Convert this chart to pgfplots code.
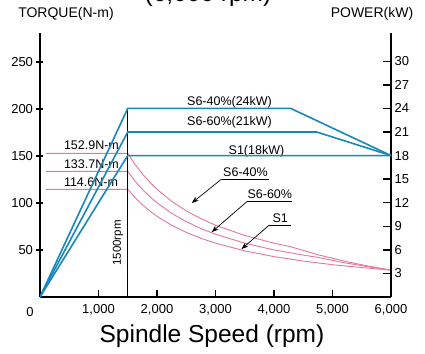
\documentclass[border=0pt]{standalone}
\usepackage{pgfplots}
\pgfplotsset{compat=1.18}
\usepackage{fontspec}
\setmainfont{Liberation Sans}
\usetikzlibrary{arrows.meta}
\definecolor{pblue}{RGB}{25,135,185}
\definecolor{ppink}{RGB}{228,120,150}
\begin{document}
\begin{tikzpicture}[x=1pt,y=1pt]
\begin{axis}[
  at={(0,0)}, anchor=south west, scale only axis,
  width=351pt, height=264pt,
  xmin=0, xmax=6000, ymin=0, ymax=281,
  axis x line*=bottom, axis y line*=left,
  axis line style={line width=1.3pt,-},
  xtick={1000,2000,3000,4000,5000,6000},
  xticklabels={{1,000},{2,000},{3,000},{4,000},{5,000},{6,000}},
  ytick={50,100,150,200,250},
  xtick align=inside, ytick align=center,
  major tick length=7pt,
  tick style={line width=1.5pt,black},
  ticklabel style={font=\fontsize{13}{13}\selectfont},
  /pgf/number format/assume math mode=true,
  xticklabel style={yshift=-4pt},
  clip=false,
]
\addplot[ppink, line width=0.9pt] coordinates {(100,152.9)(1500,152.9)(1625,141.1)(1750,131.0)(1875,122.3)(2000,114.6)(2250,101.9)(2500,91.7)(2750,83.4)(3000,76.4)(3500,65.5)(4000,57.3)(4286,53.5)(4750,45.0)(5250,37.5)(5600,33.1)(6000,28.6)};
\addplot[ppink, line width=0.9pt] coordinates {(100,133.7)(1500,133.7)(1625,123.4)(1750,114.6)(1875,107.0)(2000,100.3)(2250,89.1)(2500,80.2)(2750,72.9)(3000,66.8)(3500,57.3)(4000,50.1)(4500,44.6)(4730,42.4)(5200,36.5)(5600,32.3)(6000,28.6)};
\addplot[ppink, line width=0.9pt] coordinates {(100,114.6)(1500,114.6)(1625,105.8)(1750,98.2)(1875,91.7)(2000,85.9)(2250,76.4)(2500,68.8)(2750,62.5)(3000,57.3)(3500,49.1)(4000,43.0)(4500,38.2)(5000,34.4)(5500,31.3)(6000,28.6)};
\addplot[black, line width=0.8pt] coordinates {(1500,0)(1500,201)};
% annotations
\begin{scope}[font=\fontsize{12.5}{13}\selectfont]
\node[anchor=west] at (axis cs:350,161.7) {152.9N-m};
\node[anchor=west] at (axis cs:350,141.5) {133.7N-m};
\node[anchor=west] at (axis cs:350,122) {114.6N-m};
\node at (axis cs:3240,207.5) {S6-40\%(24kW)};
\node at (axis cs:3240,186) {S6-60\%(21kW)};
\node at (axis cs:3700,155) {S1(18kW)};
\draw[line width=0.7pt] (axis cs:3920,125.5) -- (axis cs:3104,125.5);
\draw[line width=0.7pt,-{Stealth[length=7pt,width=5pt]}] (axis cs:3104,125.5) -- (axis cs:2594,100);
\node[anchor=base] at (axis cs:3512,128) {S6-40\%};
\draw[line width=0.7pt] (axis cs:4311,102) -- (axis cs:3546,102);
\draw[line width=0.7pt,-{Stealth[length=7pt,width=5pt]}] (axis cs:3546,102) -- (axis cs:2934,69);
\node[anchor=base] at (axis cs:3928,104.5) {S6-60\%};
\draw[line width=0.7pt] (axis cs:4294,76.6) -- (axis cs:3920,76.6);
\draw[line width=0.7pt,-{Stealth[length=7pt,width=5pt]}] (axis cs:3920,76.6) -- (axis cs:3444,51);
\node[anchor=base] at (axis cs:4107,79) {S1};
\end{scope}
\node[rotate=90, font=\fontsize{11.5}{12}\selectfont] at (axis cs:1335,57.4) {1500rpm};
\end{axis}
\begin{axis}[
  at={(0,0)}, anchor=south west, scale only axis,
  width=351pt, height=264pt,
  xmin=0, xmax=6000, ymin=0, ymax=33.6,
  axis x line=none, axis y line*=right,
  axis line style={line width=1.3pt,-},
  ytick={3,6,9,12,15,18,21,24,27,30},
  ytick align=inside,
  major tick length=8pt,
  tick style={line width=1.5pt,black},
  ticklabel style={font=\fontsize{13}{13}\selectfont},
  /pgf/number format/assume math mode=true,
]
\addplot[pblue, line width=1.6pt] coordinates {(0,0)(1500,24)(4286,24)(6000,18)};
\addplot[pblue, line width=1.6pt] coordinates {(0,0)(1500,21)(4730,21)(6000,18)};
\addplot[pblue, line width=1.6pt] coordinates {(0,0)(1500,18)(6000,18)};
\end{axis}
\node[font=\fontsize{13}{13}\selectfont] at (-10pt,-15pt) {0};
\node[font=\fontsize{14}{14}\selectfont] at (26pt,283pt) {TORQUE(N-m)};
\node[font=\fontsize{14}{14}\selectfont] at (332pt,283pt) {POWER(kW)};
\node[anchor=base, font=\fontsize{24.5}{25}\selectfont] at (172pt,-45pt) {Spindle Speed (rpm)};
\node[anchor=base, font=\fontsize{24.5}{25}\selectfont] at (168pt,295pt) {(6,000 rpm)};
\pgfresetboundingbox
\useasboundingbox (-40pt,-56pt) rectangle (385pt,297pt);
\end{tikzpicture}
\end{document}
